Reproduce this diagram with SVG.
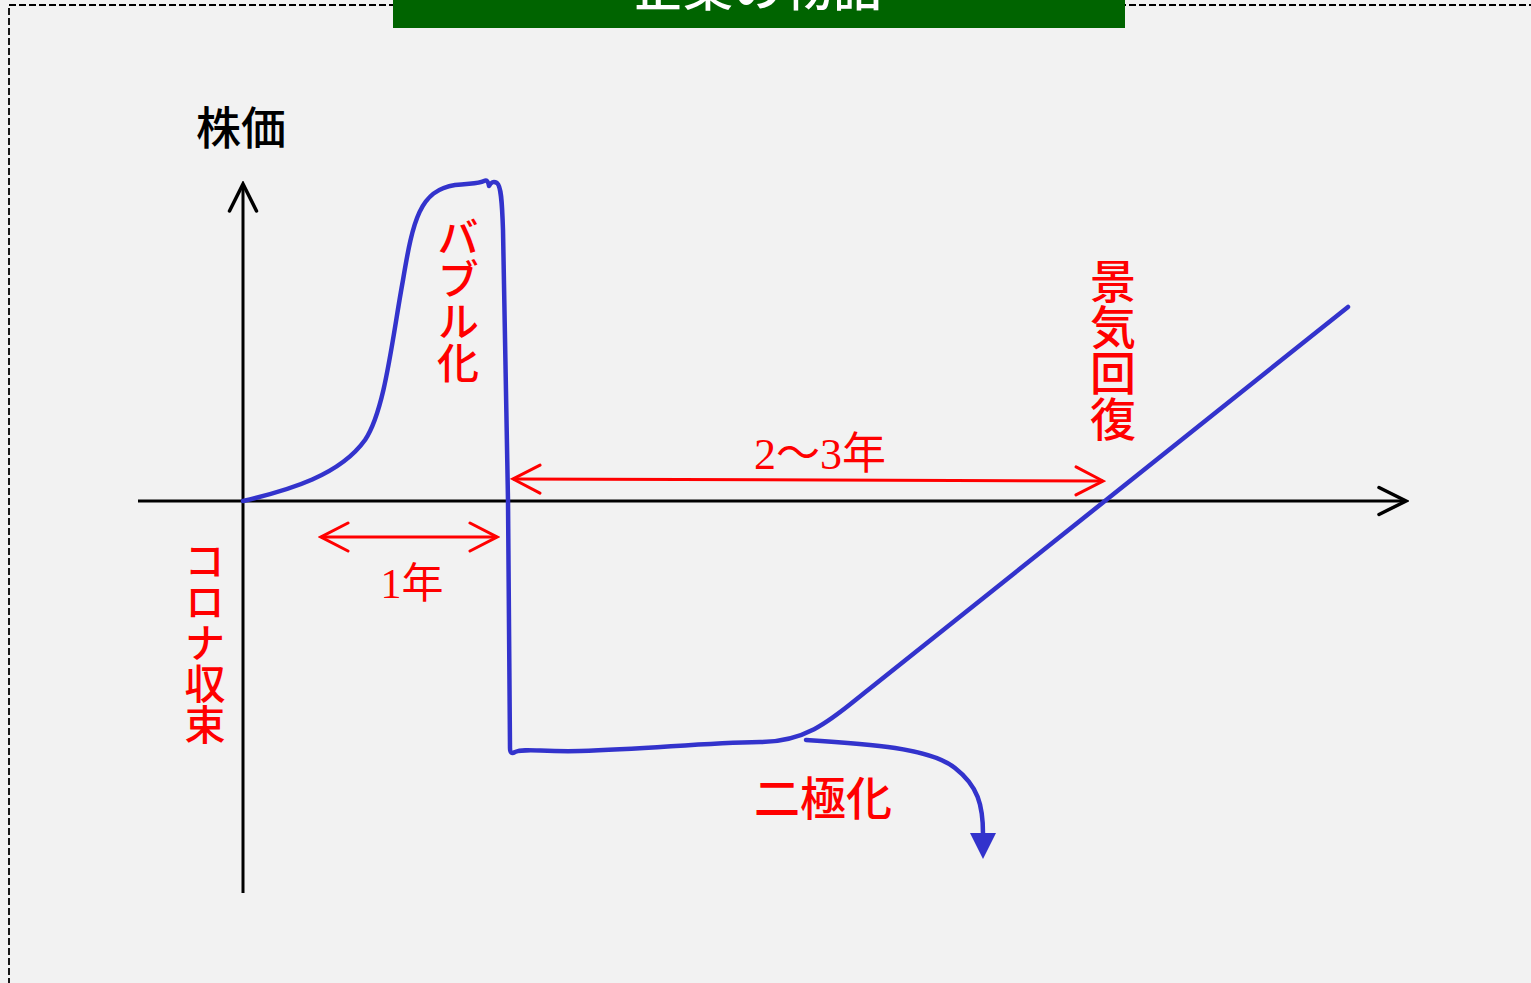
<svg xmlns="http://www.w3.org/2000/svg" width="1531" height="983" viewBox="0 0 1531 983">
<style>
.cjk{font-family:"Noto Sans CJK JP","Noto Sans",sans-serif;font-weight:500}
.red{fill:#ff0000}
.vert{writing-mode:vertical-rl;text-anchor:start}
.num{font-family:"Liberation Serif","Noto Sans CJK JP",serif}
.axis{stroke:#000;stroke-width:3;fill:none}
.rarrow{stroke:#ff0000;stroke-width:3;fill:none}
.curve{stroke:#3333cc;stroke-width:4.5;fill:none;stroke-linejoin:round;stroke-linecap:round}
</style>
<defs>
<marker id="blk" viewBox="0 0 32 32" refX="29" refY="16" markerWidth="32" markerHeight="32" markerUnits="userSpaceOnUse" orient="auto-start-reverse">
<path d="M2,2.5 L29,16 L2,29.5" fill="none" stroke="#000" stroke-width="3.5" stroke-linecap="round" stroke-linejoin="miter"/>
</marker>
<marker id="red" viewBox="0 0 32 32" refX="29" refY="16" markerWidth="32" markerHeight="32" markerUnits="userSpaceOnUse" orient="auto-start-reverse">
<path d="M2,2 L29,16 L2,30" fill="none" stroke="#ff0000" stroke-width="3" stroke-linecap="round"/>
</marker>
<marker id="tri" viewBox="0 0 28 28" refX="14" refY="2" markerWidth="28" markerHeight="28" markerUnits="userSpaceOnUse" orient="0">
<path d="M1,1 L27,1 L14,27 Z" fill="#3333cc"/>
</marker>
</defs>
<rect x="0" y="0" width="1531" height="983" fill="#f2f2f2"/>
<rect x="9" y="5" width="1600" height="1100" fill="none" stroke="#000" stroke-width="1.8" stroke-dasharray="7,3"/>
<g id="title">
<rect x="393" y="-10" width="732" height="38" fill="#006400"/>
<text x="758" y="6" class="cjk" font-size="50" fill="#fff" text-anchor="middle">企業の物語</text>
</g>
<g id="axes">
<line class="axis" x1="243" y1="893" x2="243" y2="184" marker-end="url(#blk)"/>
<line class="axis" x1="138" y1="501" x2="1406" y2="501" marker-end="url(#blk)"/>
<text x="196" y="145" class="cjk" font-size="45" fill="#000">株価</text>
</g>
<g id="connectors">
<path class="curve" d="M243,501 C290,490 340,475 365,440 C385,410 392,340 403,280 C413,220 420,190 455,185 C470,183 478,184 484,181 Q488,179 489,186 Q492,180 497,183 C501,186 502,200 503,230 L508,500 L510,748 Q510,755 515,752 C525,748 540,752 580,751 C650,749 700,743 760,742 C810,742 835,716 868,690 L1348,307"/>
<path class="curve" d="M806,740 C870,744 930,748 955,768 C978,786 983,805 983,834" marker-end="url(#tri)"/>
<line class="rarrow" x1="321" y1="537" x2="497" y2="537" marker-start="url(#red)" marker-end="url(#red)"/>
<line class="rarrow" x1="513" y1="479" x2="1103" y2="481" marker-start="url(#red)" marker-end="url(#red)"/>
</g>
<g id="labels">
<text x="412" y="598" class="num red" font-size="42" text-anchor="middle">1年</text>
<text x="820" y="469" class="num red" font-size="44" text-anchor="middle">2〜3年</text>
<text x="458" y="216" class="cjk red vert" font-size="42">バブル化</text>
<text x="1113" y="258" class="cjk red vert" font-size="46">景気回復</text>
<text x="205" y="540" class="cjk red vert" font-size="41">コロナ収束</text>
<text x="823" y="815" class="cjk red" font-size="46" text-anchor="middle">二極化</text>
</g>
</svg>
